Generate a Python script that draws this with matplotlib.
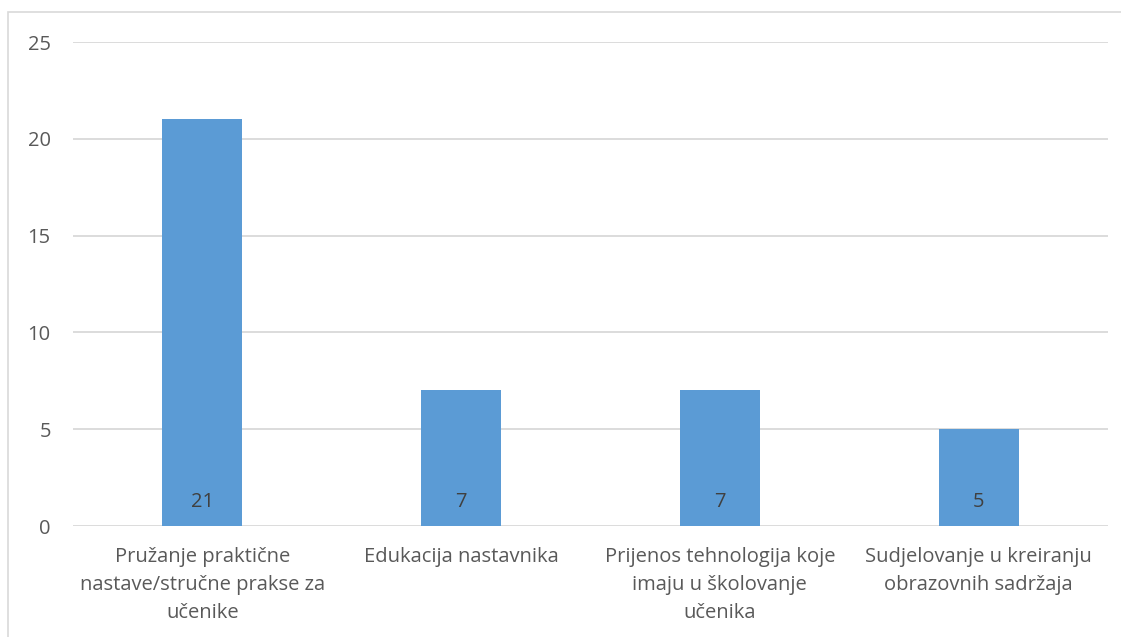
import matplotlib
matplotlib.use("Agg")
from matplotlib import pyplot as plt
import matplotlib.patches as mpatches

categories = ['Pružanje praktične\nnastave/stručne prakse za\nučenike',
              'Edukacija nastavnika',
              'Prijenos tehnologija koje\nimaju u školovanje\nučenika',
              'Sudjelovanje u kreiranju\nobrazovnih sadržaja']
values = [21, 7, 7, 5]
yticks = [0, 5, 10, 15, 20, 25]

plt.rcParams['font.family'] = ['Open Sans', 'DejaVu Sans']
txt = '#595959'
grid = '#D9D9D9'

fig = plt.figure(figsize=(11.21, 6.37), dpi=100)
fig.patches.append(mpatches.Rectangle((8/1121, -0.1), 1.2, 1 - 12/637 + 0.1,
                                      transform=fig.transFigure, fill=False,
                                      edgecolor=grid, linewidth=1.2))
ax = fig.add_axes([73/1121, 1 - 526/637, 1035/1121, 484/637])

x = list(range(len(values)))
ax.bar(x, values, width=0.31, color='#5B9BD5', zorder=3)
for xi, v in zip(x, values):
    ax.annotate(str(v), (xi, 0), xytext=(0, 10), textcoords='offset points',
                ha='center', va='bottom', fontsize=14.5, color='#404040', zorder=4)

ax.set_xlim(-0.5, len(values) - 0.5)
ax.set_ylim(0, 25)
ax.set_yticks(yticks)
ax.set_xticks(x)
ax.set_xticklabels(categories, fontsize=14.5, color=txt, linespacing=1.53)
ax.tick_params(axis='y', labelsize=14.5, labelcolor=txt, length=0, pad=16)
ax.tick_params(axis='x', length=0, pad=15)
ax.grid(axis='y', color=grid, linewidth=1.3, zorder=0)
for s in ax.spines.values():
    s.set_visible(False)
ax.set_facecolor('none')

fig.savefig('out.png', dpi=100)
